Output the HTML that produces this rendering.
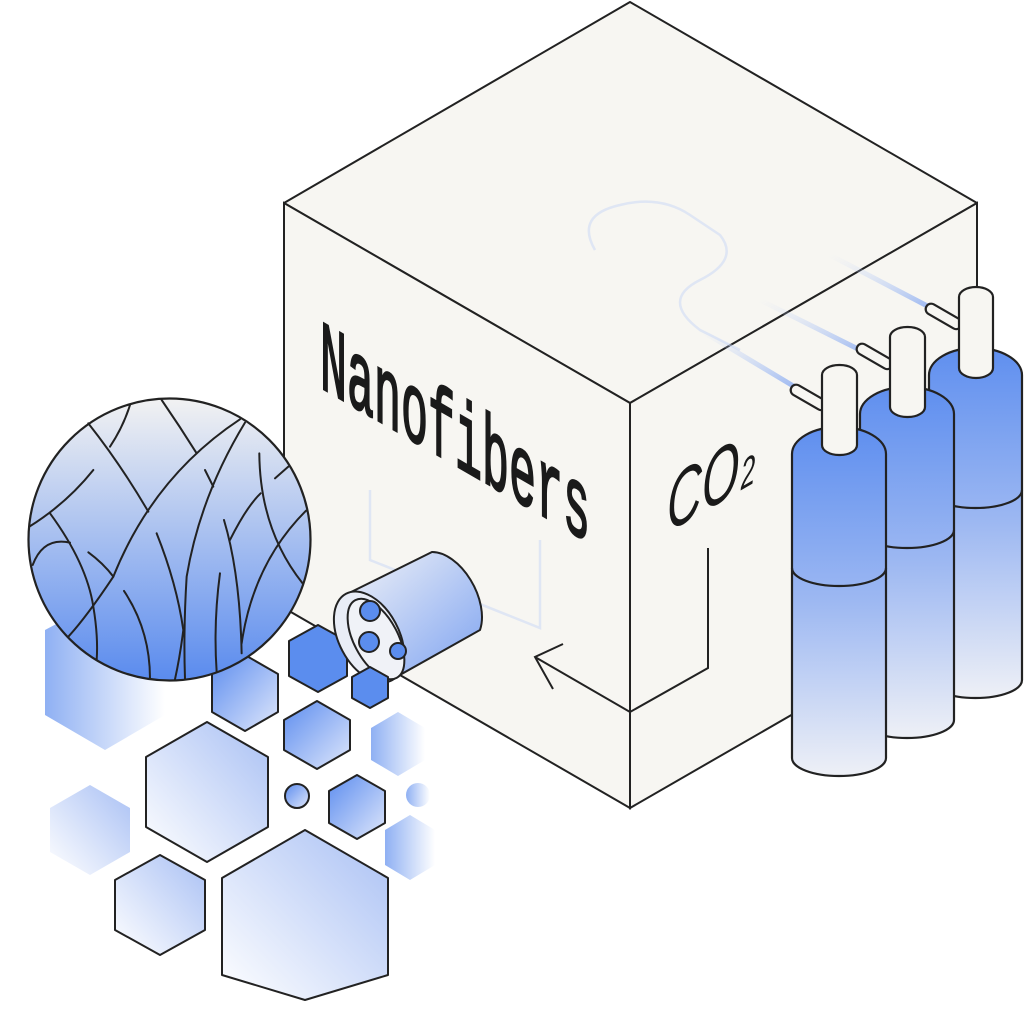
<!DOCTYPE html>
<html><head><meta charset="utf-8"><style>html,body{margin:0;padding:0;background:#fff;width:1024px;height:1012px;overflow:hidden}</style></head>
<body>
<svg width="1024" height="1012" viewBox="0 0 1024 1012" xmlns="http://www.w3.org/2000/svg">
<defs>
<linearGradient id="gv" x1="0" y1="0" x2="0" y2="1"><stop offset="0" stop-color="#f2f2f2"/><stop offset="1" stop-color="#5a8bee"/></linearGradient>
<linearGradient id="cyl" x1="0" y1="0" x2="0" y2="1"><stop offset="0" stop-color="#5f8fef"/><stop offset="0.5" stop-color="#9db8f2"/><stop offset="1" stop-color="#eef0f6"/></linearGradient>
<linearGradient id="hexg" x1="0" y1="0" x2="1" y2="1"><stop offset="0" stop-color="#5d8def"/><stop offset="1" stop-color="#dfe7fb"/></linearGradient>
<linearGradient id="hexf" x1="0" y1="0" x2="1" y2="0"><stop offset="0" stop-color="#8fb0f3"/><stop offset="1" stop-color="#ffffff"/></linearGradient>
<linearGradient id="hexl" x1="1" y1="0" x2="0" y2="1"><stop offset="0" stop-color="#a9c0f4"/><stop offset="1" stop-color="#ffffff"/></linearGradient>
<linearGradient id="tube" x1="0" y1="0" x2="1" y2="1"><stop offset="0" stop-color="#f3f4f7"/><stop offset="1" stop-color="#7ea3f1"/></linearGradient>
<linearGradient id="glow" x1="0" y1="0" x2="1" y2="1"><stop offset="0" stop-color="#cfdcf8" stop-opacity="0"/><stop offset="1" stop-color="#7ea3f1"/></linearGradient>
</defs>

<!-- cube -->
<polygon points="284,203 630,2 977,203 630,403" fill="#f7f6f2" stroke="#222" stroke-width="2" stroke-linejoin="round"/>
<polygon points="284,203 630,403 630,808 284,608" fill="#f7f6f2" stroke="#222" stroke-width="2"/>
<polygon points="630,403 977,203 977,608 630,808" fill="#f7f6f2" stroke="#222" stroke-width="2"/>

<!-- faint inner lines -->
<g fill="none" stroke="#c7d5f5" stroke-width="2.5" opacity="0.5">
<path d="M370,490 L370,560 L540,628 L540,540"/>
<path d="M595,250 Q575,215 620,205 Q660,195 690,215 L720,235 Q740,260 700,280 Q660,300 700,330 L740,350"/>
</g>
<g stroke="url(#glow)" stroke-width="5" opacity="0.8">
<line x1="700" y1="330" x2="800" y2="390"/>
<line x1="760" y1="300" x2="870" y2="355"/>
<line x1="830" y1="255" x2="935" y2="310"/>
</g>

<!-- text -->
<g transform="translate(320,387) skewY(30) scale(0.45,1)"><text x="0" y="0" font-family="Liberation Mono, monospace" font-size="100" fill="#1a1a1a" stroke="#1a1a1a" stroke-width="2.5">Nanofibers</text></g>
<g transform="translate(667,533) skewY(-30) scale(0.62,1)"><text x="0" y="0" font-family="Liberation Sans, sans-serif" font-style="italic" font-size="78" fill="#1a1a1a">CO<tspan font-size="42" dx="2">2</tspan></text></g>

<!-- arrow -->
<path d="M708,548 L708,668 L630,712 L535,657" fill="none" stroke="#222" stroke-width="2"/>
<path d="M563,644 L535,657 L553,689" fill="none" stroke="#222" stroke-width="2"/>

<!-- cylinders -->
<g stroke="#222" stroke-width="2.2">
<path d="M929,375 A46.5,27 0 0 1 1022,375 L1022,680 A46.5,18 0 0 1 929,680 Z" fill="url(#cyl)"/>
<path d="M929,490 A46.5,18 0 0 0 1022,490" fill="none"/>
<rect x="924" y="311" width="40" height="11" rx="5.5" transform="rotate(30 944 316)" fill="#f7f6f2"/>
<rect x="959" y="287" width="34" height="91" rx="17" ry="10" fill="#f7f6f2"/>
<path d="M860,414 A47,27 0 0 1 954,414 L954,720 A47,18 0 0 1 860,720 Z" fill="url(#cyl)"/>
<path d="M860,530 A47,18 0 0 0 954,530" fill="none"/>
<rect x="855" y="351" width="40" height="11" rx="5.5" transform="rotate(30 875 356)" fill="#f7f6f2"/>
<rect x="890" y="327" width="35" height="90" rx="17" ry="10" fill="#f7f6f2"/>
<path d="M792,454 A47,27 0 0 1 886,454 L886,758 A47,18 0 0 1 792,758 Z" fill="url(#cyl)"/>
<path d="M792,568 A47,18 0 0 0 886,568" fill="none"/>
<rect x="789" y="392" width="40" height="11" rx="5.5" transform="rotate(30 809 397)" fill="#f7f6f2"/>
<rect x="822" y="365" width="35" height="90" rx="17" ry="10" fill="#f7f6f2"/>
</g>

<!-- hexagons -->
<g stroke="#222" stroke-width="2" stroke-linejoin="round">
<polygon points="105,598 165,630 165,715 105,750 45,715 45,630" fill="url(#hexf)" stroke="none"/>
<polygon points="207,722 268,757 268,827 207,862 146,827 146,757" fill="url(#hexl)"/>
<polygon points="90,785 130,808 130,852 90,875 50,852 50,808" fill="url(#hexl)" stroke="none"/>
<polygon points="305,830 388,878 388,975 305,1000 222,975 222,878" fill="url(#hexl)"/>
<polygon points="160,855 205,880 205,930 160,955 115,930 115,880" fill="url(#hexl)"/>
<polygon points="245,655 278,674 278,712 245,731 212,712 212,674" fill="url(#hexg)"/>
<polygon points="318,625 347,641 347,676 318,692 289,676 289,641" fill="#5b8dee"/>
<polygon points="317,701 350,720 350,750 317,769 284,750 284,720" fill="url(#hexg)"/>
<polygon points="398,712 425,728 425,760 398,776 371,760 371,728" fill="url(#hexf)" stroke="none"/>
<polygon points="357,775 385,791 385,823 357,839 329,823 329,791" fill="url(#hexg)"/>
<polygon points="410,815 435,830 435,865 410,880 385,865 385,830" fill="url(#hexf)" stroke="none"/>
<circle cx="297" cy="796" r="12" fill="url(#hexg)"/>
<circle cx="418" cy="795" r="12" fill="url(#hexf)" stroke="none"/>
</g>

<!-- small tube -->
<g stroke="#222" stroke-width="2">
<path d="M343,596 L432,552 A30,50 -28 0 1 480,630 L398,676 Z" fill="url(#tube)"/>
<ellipse cx="369" cy="637" rx="30" ry="49" transform="rotate(-28 369 637)" fill="#e9edf6"/>
<ellipse cx="376" cy="639" rx="22" ry="44" transform="rotate(-28 376 639)" fill="#f0f2f7"/>
<circle cx="370" cy="611" r="10" fill="#5b8dee"/>
<circle cx="369" cy="642" r="10" fill="#5b8dee"/>
<circle cx="398" cy="651" r="8" fill="#5b8dee"/>
<polygon points="370,667 388,677 388,698 370,708 352,698 352,677" fill="#5b8dee" stroke-linejoin="round"/>
</g>

<!-- circle -->
<circle cx="169.5" cy="539.5" r="141" fill="url(#gv)" stroke="#222" stroke-width="2.2"/>
<g transform="translate(20,390) scale(0.3333)" fill="none" stroke="#222" stroke-width="6" stroke-linecap="round">
<path d="M205,100 Q300,220 385,365"/>
<path d="M425,30 Q480,110 530,190"/>
<path d="M270,170 Q310,110 330,45"/>
<path d="M28,410 Q140,340 220,240"/>
<path d="M660,88 Q400,260 280,560 Q200,680 145,740"/>
<path d="M675,98 Q540,320 500,560 Q490,720 495,865"/>
<path d="M555,240 L580,290"/>
<path d="M90,370 Q200,520 220,650 Q235,740 230,810"/>
<path d="M38,525 Q70,440 150,458"/>
<path d="M205,487 Q250,520 280,560"/>
<path d="M410,430 Q470,580 490,720 Q480,800 465,868"/>
<path d="M312,603 Q390,720 390,865"/>
<path d="M600,550 Q580,700 590,845"/>
<path d="M612,390 Q660,550 665,790"/>
<path d="M630,450 Q680,350 722,310"/>
<path d="M718,190 Q720,420 848,580"/>
<path d="M765,265 L805,230"/>
<path d="M858,362 Q700,520 665,760"/>
</g>
</svg>
</body></html>
